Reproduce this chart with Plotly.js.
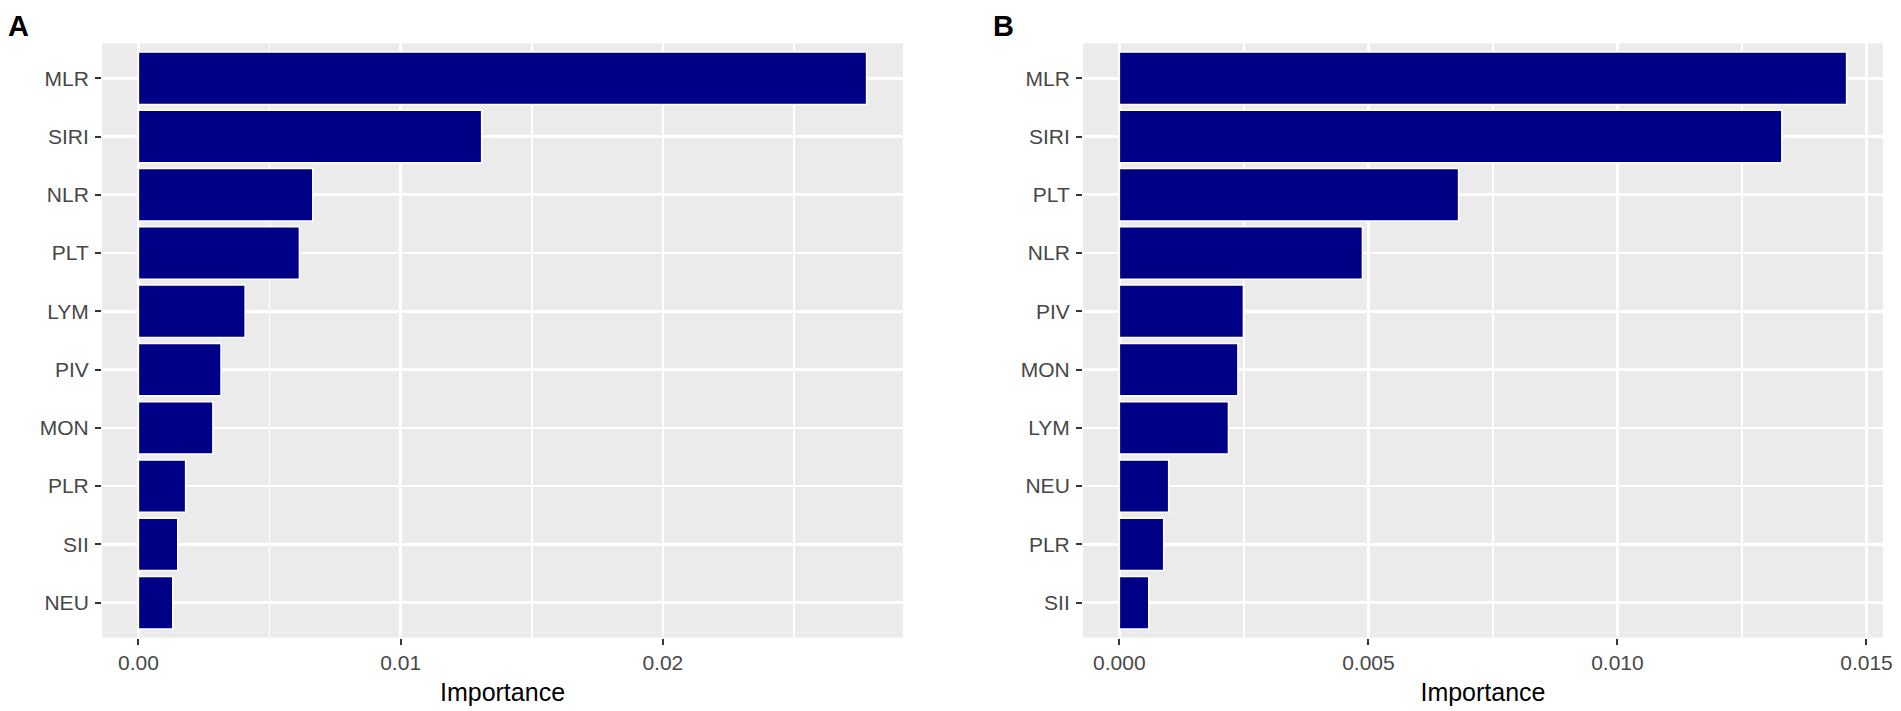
<!DOCTYPE html>
<html>
<head>
<meta charset="utf-8">
<script src="https://cdn.plot.ly/plotly-3.0.1.min.js"></script>
<style>
  html, body { margin: 0; padding: 0; background: #fff; }
  #chart { width: 1901px; height: 711px; }
</style>
</head>
<body>
<div id="chart"></div>
<script>
// panel A
var labelsA = ['MLR', 'SIRI', 'NLR', 'PLT', 'LYM', 'PIV', 'MON', 'PLR', 'SII', 'NEU'];
var importanceA = [0.02777, 0.01309, 0.00665, 0.00614, 0.00407, 0.00315, 0.00284, 0.00180, 0.00150, 0.00131];
var tickvalsA = [0, 0.01, 0.02];
var ticktextA = ['0.00', '0.01', '0.02'];

// panel B
var labelsB = ['MLR', 'SIRI', 'PLT', 'NLR', 'PIV', 'MON', 'LYM', 'NEU', 'PLR', 'SII'];
var importanceB = [0.01460, 0.01330, 0.00681, 0.00488, 0.00249, 0.00238, 0.00219, 0.00099, 0.00089, 0.00059];
var tickvalsB = [0, 0.005, 0.010, 0.015];
var ticktextB = ['0.000', '0.005', '0.010', '0.015'];

var barColor = '#000087';
var tickFont = {family: 'Liberation Sans, Arial, sans-serif', size: 21, color: '#474747'};
var titleFont = {family: 'Liberation Sans, Arial, sans-serif', size: 25, color: '#000000'};

function bar(labels, vals, xa, ya) {
  return {
    type: 'bar',
    orientation: 'h',
    x: vals,
    y: labels,
    xaxis: xa,
    yaxis: ya,
    width: 0.9,
    marker: {color: barColor, line: {color: '#ffffff', width: 1.5}},
    hoverinfo: 'x+y',
    showlegend: false
  };
}

// ggplot style 5% expansion on the continuous axis
function expand(vals) {
  var mx = Math.max.apply(null, vals);
  return [-0.05 * mx, mx * 1.05];
}

function xAxis(vals, tickvals, ticktext, minorStep, domain, anchor) {
  return {
    domain: domain,
    anchor: anchor,
    range: expand(vals),
    tickmode: 'array',
    tickvals: tickvals,
    ticktext: ticktext,
    ticks: 'outside',
    ticklen: 6,
    tickwidth: 2,
    tickcolor: '#333333',
    tickfont: tickFont,
    showgrid: true,
    gridcolor: '#ffffff',
    gridwidth: 2.6,
    minor: {dtick: minorStep, tick0: 0, showgrid: true, gridcolor: '#ffffff', gridwidth: 1.8, ticks: ''},
    zeroline: false,
    showline: false,
    title: {text: 'Importance', font: titleFont, standoff: 10},
    fixedrange: true
  };
}

function yAxis(labels, domain, anchor) {
  return {
    domain: domain,
    anchor: anchor,
    type: 'category',
    categoryorder: 'array',
    categoryarray: labels,
    range: [labels.length - 0.4, -0.6],
    ticks: 'outside',
    ticklen: 6,
    tickwidth: 2,
    tickcolor: '#333333',
    tickfont: tickFont,
    ticklabelstandoff: 2,
    showgrid: true,
    gridcolor: '#ffffff',
    gridwidth: 2.6,
    zeroline: false,
    showline: false,
    fixedrange: true
  };
}

var yDom = [0.1032, 0.9391];

var data = [
  bar(labelsA, importanceA, 'x', 'y'),
  bar(labelsB, importanceB, 'x2', 'y2')
];

var panelFont = {family: 'Liberation Sans, Arial, sans-serif', size: 29, color: '#000'};

var layout = {
  width: 1901,
  height: 711,
  margin: {l: 0, r: 0, t: 0, b: 0},
  paper_bgcolor: '#ffffff',
  plot_bgcolor: '#EBEBEB',
  bargap: 0.1,
  xaxis: xAxis(importanceA, tickvalsA, ticktextA, 0.005, [0.05366, 0.47501], 'y'),
  yaxis: yAxis(labelsA, yDom, 'x'),
  xaxis2: xAxis(importanceB, tickvalsB, ticktextB, 0.0025, [0.5697, 0.9905], 'y2'),
  yaxis2: yAxis(labelsB, yDom, 'x2'),
  annotations: [
    {text: '<b>A</b>', xref: 'paper', yref: 'paper', x: 6 / 1901, y: 1 - 8 / 711,
     xanchor: 'left', yanchor: 'top', showarrow: false, font: panelFont},
    {text: '<b>B</b>', xref: 'paper', yref: 'paper', x: 991 / 1901, y: 1 - 8 / 711,
     xanchor: 'left', yanchor: 'top', showarrow: false, font: panelFont}
  ]
};

Plotly.newPlot('chart', data, layout, {displayModeBar: false, staticPlot: true});
</script>
</body>
</html>
